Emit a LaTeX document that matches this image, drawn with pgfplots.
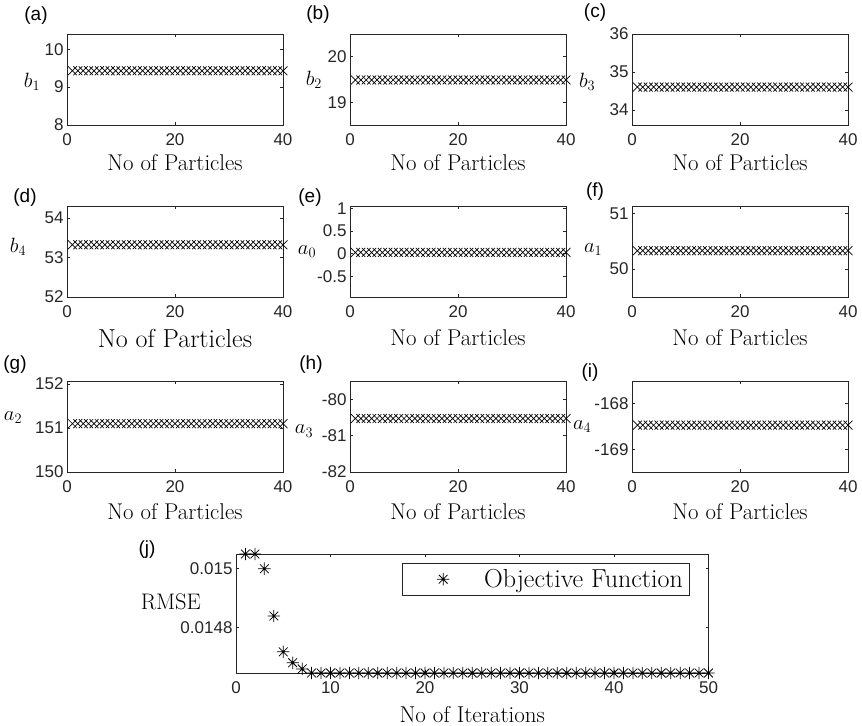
\documentclass[border=0pt]{standalone}
\usepackage{fontspec}
\setsansfont{Liberation Sans}
\usepackage{pgfplots}
\usepackage{pgfplotstable}
\pgfplotsset{compat=1.18}
\usetikzlibrary{plotmarks}

\newcommand\ticksize{\fontsize{17bp}{17bp}\selectfont}
\newcommand\letsize{\fontsize{19bp}{19bp}\selectfont}

% MATLAB style eight-armed asterisk
\pgfdeclareplotmark{ast8}{%
  \pgfpathmoveto{\pgfqpoint{0pt}{-\pgfplotmarksize}}%
  \pgfpathlineto{\pgfqpoint{0pt}{\pgfplotmarksize}}%
  \pgfpathmoveto{\pgfqpoint{-\pgfplotmarksize}{0pt}}%
  \pgfpathlineto{\pgfqpoint{\pgfplotmarksize}{0pt}}%
  \pgfpathmoveto{\pgfqpoint{-.7071\pgfplotmarksize}{-.7071\pgfplotmarksize}}%
  \pgfpathlineto{\pgfqpoint{.7071\pgfplotmarksize}{.7071\pgfplotmarksize}}%
  \pgfpathmoveto{\pgfqpoint{-.7071\pgfplotmarksize}{.7071\pgfplotmarksize}}%
  \pgfpathlineto{\pgfqpoint{.7071\pgfplotmarksize}{-.7071\pgfplotmarksize}}%
  \pgfusepathqstroke}

% best values per particle
\pgfplotstableread{
n  b1    b2    b3    b4    a0    a1    a2     a3     a4
1  9.43  19.49 34.6  53.32 0.03  50.33 151.1  -80.53 -168.47
2  9.43  19.49 34.6  53.32 0.03  50.33 151.1  -80.53 -168.47
3  9.43  19.49 34.6  53.32 0.03  50.33 151.1  -80.53 -168.47
4  9.43  19.49 34.6  53.32 0.03  50.33 151.1  -80.53 -168.47
5  9.43  19.49 34.6  53.32 0.03  50.33 151.1  -80.53 -168.47
6  9.43  19.49 34.6  53.32 0.03  50.33 151.1  -80.53 -168.47
7  9.43  19.49 34.6  53.32 0.03  50.33 151.1  -80.53 -168.47
8  9.43  19.49 34.6  53.32 0.03  50.33 151.1  -80.53 -168.47
9  9.43  19.49 34.6  53.32 0.03  50.33 151.1  -80.53 -168.47
10 9.43  19.49 34.6  53.32 0.03  50.33 151.1  -80.53 -168.47
11 9.43  19.49 34.6  53.32 0.03  50.33 151.1  -80.53 -168.47
12 9.43  19.49 34.6  53.32 0.03  50.33 151.1  -80.53 -168.47
13 9.43  19.49 34.6  53.32 0.03  50.33 151.1  -80.53 -168.47
14 9.43  19.49 34.6  53.32 0.03  50.33 151.1  -80.53 -168.47
15 9.43  19.49 34.6  53.32 0.03  50.33 151.1  -80.53 -168.47
16 9.43  19.49 34.6  53.32 0.03  50.33 151.1  -80.53 -168.47
17 9.43  19.49 34.6  53.32 0.03  50.33 151.1  -80.53 -168.47
18 9.43  19.49 34.6  53.32 0.03  50.33 151.1  -80.53 -168.47
19 9.43  19.49 34.6  53.32 0.03  50.33 151.1  -80.53 -168.47
20 9.43  19.49 34.6  53.32 0.03  50.33 151.1  -80.53 -168.47
21 9.43  19.49 34.6  53.32 0.03  50.33 151.1  -80.53 -168.47
22 9.43  19.49 34.6  53.32 0.03  50.33 151.1  -80.53 -168.47
23 9.43  19.49 34.6  53.32 0.03  50.33 151.1  -80.53 -168.47
24 9.43  19.49 34.6  53.32 0.03  50.33 151.1  -80.53 -168.47
25 9.43  19.49 34.6  53.32 0.03  50.33 151.1  -80.53 -168.47
26 9.43  19.49 34.6  53.32 0.03  50.33 151.1  -80.53 -168.47
27 9.43  19.49 34.6  53.32 0.03  50.33 151.1  -80.53 -168.47
28 9.43  19.49 34.6  53.32 0.03  50.33 151.1  -80.53 -168.47
29 9.43  19.49 34.6  53.32 0.03  50.33 151.1  -80.53 -168.47
30 9.43  19.49 34.6  53.32 0.03  50.33 151.1  -80.53 -168.47
31 9.43  19.49 34.6  53.32 0.03  50.33 151.1  -80.53 -168.47
32 9.43  19.49 34.6  53.32 0.03  50.33 151.1  -80.53 -168.47
33 9.43  19.49 34.6  53.32 0.03  50.33 151.1  -80.53 -168.47
34 9.43  19.49 34.6  53.32 0.03  50.33 151.1  -80.53 -168.47
35 9.43  19.49 34.6  53.32 0.03  50.33 151.1  -80.53 -168.47
36 9.43  19.49 34.6  53.32 0.03  50.33 151.1  -80.53 -168.47
37 9.43  19.49 34.6  53.32 0.03  50.33 151.1  -80.53 -168.47
38 9.43  19.49 34.6  53.32 0.03  50.33 151.1  -80.53 -168.47
39 9.43  19.49 34.6  53.32 0.03  50.33 151.1  -80.53 -168.47
40 9.43  19.49 34.6  53.32 0.03  50.33 151.1  -80.53 -168.47
}\particles

% RMSE per iteration
\pgfplotstableread{
it rmse
1  0.01505
2  0.01505
3  0.01500
4  0.014839
5  0.014717
6  0.014680
7  0.014659
8  0.014645
9  0.014645
10 0.014645
11 0.014645
12 0.014645
13 0.014645
14 0.014645
15 0.014645
16 0.014645
17 0.014645
18 0.014645
19 0.014645
20 0.014645
21 0.014645
22 0.014645
23 0.014645
24 0.014645
25 0.014645
26 0.014645
27 0.014645
28 0.014645
29 0.014645
30 0.014645
31 0.014645
32 0.014645
33 0.014645
34 0.014645
35 0.014645
36 0.014645
37 0.014645
38 0.014645
39 0.014645
40 0.014645
41 0.014645
42 0.014645
43 0.014645
44 0.014645
45 0.014645
46 0.014645
47 0.014645
48 0.014645
49 0.014645
50 0.014645
}\rmse

\pgfplotsset{
  mbox/.style={
    scale only axis, anchor=south west, clip=false,
    tick align=inside, major tick length=3bp,
    axis line style={black!85, line width=0.6bp},
    every tick/.style={black!85, line width=0.6bp},
    tick label style={font=\ticksize\sffamily, text=black!85},
    xticklabel style={yshift=-5bp},
    scaled ticks=false,
  },
  panel/.style={
    mbox, width=216bp, height=91bp,
    xmin=0, xmax=40, xtick={0,20,40}, xticklabels={0,20,40},
    xlabel={No of Particles},
  },
  % label placement and size: xlab={y}{font size}, ylab={x}{y}{font size}
  xlab/.style 2 args={every axis x label/.style={at={(axis description cs:0.5,#1)},
    anchor=center, font=\fontsize{#2}{#2}\selectfont}},
  ylab/.style n args={3}{every axis y label/.style={at={(axis description cs:#1,#2)},
    anchor=center, font=\fontsize{#3}{#3}\selectfont}},
  xmk/.style={only marks, mark=x, mark size=6.3bp, line width=0.7bp, black},
}

\begin{document}
\begin{tikzpicture}
\useasboundingbox (0,0) rectangle (862bp,-726bp);

% row 1
\begin{axis}[panel, at={(67bp,-125bp)}, xlab={-0.41}{22.8bp}, ylab={-0.162}{0.47}{20bp},
  ymin=8, ymax=10.4, ytick={8,9,10}, yticklabels={8,9,10}, ylabel={$b_1$}]
\addplot[xmk] table[x=n, y=b1] {\particles};
\end{axis}
\begin{axis}[panel, at={(350bp,-125bp)}, xlab={-0.41}{22.8bp}, ylab={-0.167}{0.5}{20bp},
  ymin=18.5, ymax=20.5, ytick={19,20}, yticklabels={19,20}, ylabel={$b_2$}]
\addplot[xmk] table[x=n, y=b2] {\particles};
\end{axis}
\begin{axis}[panel, at={(632bp,-125bp)}, xlab={-0.41}{22.8bp}, ylab={-0.208}{0.47}{20bp},
  ymin=33.6, ymax=36, ytick={34,35,36}, yticklabels={34,35,36}, ylabel={$b_3$}]
\addplot[xmk] table[x=n, y=b3] {\particles};
\end{axis}

% row 2
\begin{axis}[panel, at={(67bp,-297bp)}, xlab={-0.46}{26bp}, ylab={-0.227}{0.55}{20bp},
  ymin=52, ymax=54.3, ytick={52,53,54}, yticklabels={52,53,54}, ylabel={$b_4$}]
\addplot[xmk] table[x=n, y=b4] {\particles};
\end{axis}
\begin{axis}[panel, at={(350bp,-297bp)}, xlab={-0.45}{22.8bp}, ylab={-0.199}{0.5}{20bp},
  ymin=-0.95, ymax=1.05, ytick={-0.5,0,0.5,1}, yticklabels={-0.5,0,0.5,1}, ylabel={$a_0$}]
\addplot[xmk] table[x=n, y=a0] {\particles};
\end{axis}
\begin{axis}[panel, at={(632bp,-297bp)}, xlab={-0.45}{22.8bp}, ylab={-0.18}{0.52}{20bp},
  ymin=49.49, ymax=51.14, ytick={50,51}, yticklabels={50,51}, ylabel={$a_1$}]
\addplot[xmk] table[x=n, y=a1] {\particles};
\end{axis}

% row 3
\begin{axis}[panel, at={(67bp,-472bp)}, xlab={-0.44}{22.8bp}, ylab={-0.25}{0.6}{20bp},
  ymin=150, ymax=152.07, ytick={150,151,152}, yticklabels={150,151,152}, ylabel={$a_2$}]
\addplot[xmk] table[x=n, y=a2] {\particles};
\end{axis}
\begin{axis}[panel, at={(350bp,-472bp)}, xlab={-0.44}{22.8bp}, ylab={-0.213}{0.45}{20bp},
  ymin=-82, ymax=-79.5, ytick={-82,-81,-80}, yticklabels={-82,-81,-80}, ylabel={$a_3$}]
\addplot[xmk] table[x=n, y=a3] {\particles};
\end{axis}
\begin{axis}[panel, at={(632bp,-472bp)}, xlab={-0.44}{22.8bp}, ylab={-0.231}{0.5}{20bp},
  ymin=-169.5, ymax=-167.5, ytick={-169,-168}, yticklabels={-169,-168}, ylabel={$a_4$}]
\addplot[xmk] table[x=n, y=a4] {\particles};
\end{axis}

% (j) convergence
\begin{axis}[mbox, at={(236bp,-673bp)}, width=472.5bp, height=119bp,
  xmin=0, xmax=50, xtick={0,10,20,30,40,50}, xticklabels={0,10,20,30,40,50},
  ymin=0.014645, ymax=0.01505, ytick={0.0148,0.015}, yticklabels={0.0148,0.015},
  xlabel={No of Iterations}, ylabel={RMSE},
  xlab={-0.35}{23bp}, ylab={-0.138}{0.6}{22.5bp},
  legend style={at={(axis description cs:0.959,0.924)}, anchor=north east,
    draw=black!85, line width=0.6bp, font=\fontsize{26bp}{26bp}\selectfont,
    inner xsep=4bp, inner ysep=4bp},
  legend image code/.code={\path[draw=none] (0bp,0bp) -- (76bp,0bp);
    \draw plot coordinates {(37bp,0bp)};}]
\addplot[only marks, mark=ast8, mark size=6.2bp, line width=0.75bp, black]
  table[x=it, y=rmse] {\rmse};
\addlegendentry{Objective Function}
\end{axis}

% panel letters
\begin{scope}[every node/.style={font=\letsize\sffamily, text=black}]
\node at (36bp,-16bp) {(a)};
\node at (318bp,-15bp) {(b)};
\node at (595bp,-13bp) {(c)};
\node at (25bp,-198bp) {(d)};
\node at (310bp,-198bp) {(e)};
\node at (595bp,-192bp) {(f)};
\node at (15bp,-365bp) {(g)};
\node at (311bp,-365bp) {(h)};
\node at (590bp,-373bp) {(i)};
\node at (147bp,-550bp) {(j)};
\end{scope}
\end{tikzpicture}
\end{document}
